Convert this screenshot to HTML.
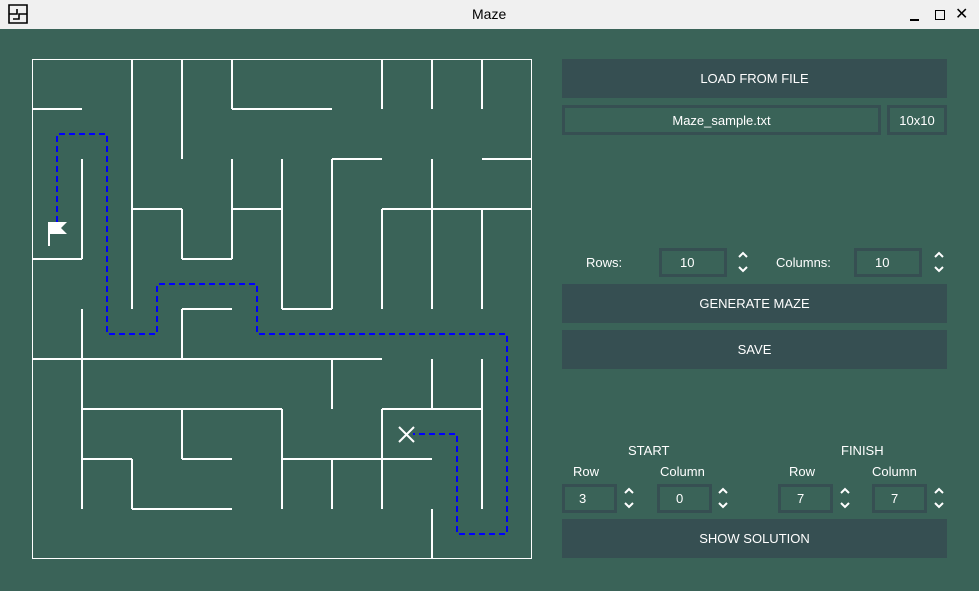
<!DOCTYPE html>
<html><head><style>
body{margin:0;width:979px;height:591px;overflow:hidden;background:#3a6358;font-family:"Liberation Sans",sans-serif;position:relative}
.tb{position:absolute;left:0;top:0;width:979px;height:29px;background:#f0f0f0;color:#000}
.a{position:absolute}
.btn{position:absolute;left:562px;width:385px;background:#364f52;color:#fff;font-size:13px;display:flex;align-items:center;justify-content:center}
.box{position:absolute;border:3px solid #364f52;box-sizing:border-box;color:#fff;font-size:13px;display:flex;align-items:center}
.t{position:absolute;color:#fff;font-size:13px}
</style></head><body>
<div class="tb">
<svg class="a" style="left:8px;top:4px" width="20" height="20"><path d="M1 1H19V19H1Z M1 10H9V5 M19 10H11V15H5" fill="none" stroke="#000" stroke-width="1.6"/></svg>
<div class="a" style="left:472px;top:6px;font-size:14px">Maze</div>
<div class="a" style="left:910px;top:19px;width:9px;height:2px;background:#000"></div>
<div class="a" style="left:935px;top:10px;width:8px;height:8px;border:1.5px solid #000"></div>
<div class="a" style="left:955px;top:4px;font-size:16px">✕</div>
</div>
<svg class="a" style="left:0;top:0" width="979" height="591">
<rect x="32.5" y="59.5" width="499" height="499" fill="none" stroke="#fff" stroke-width="1"/>
<g stroke="#fff" stroke-width="2" fill="none">
<path d="M32 109H82 M232 109H332 M332 159H382 M482 159H532 M132 209H182 M232 209H282 M382 209H532 M32 259H82 M182 259H232 M182 309H232 M282 309H332 M32 359H382 M82 409H282 M382 409H482 M82 459H132 M182 459H232 M282 459H432 M132 509H232"/>
<path d="M132 59V309 M182 59V159 M182 209V259 M232 59V109 M232 159V259 M282 159V309 M332 159V309 M382 59V109 M382 209V309 M432 59V109 M432 159V309 M482 59V109 M482 209V309 M82 159V259 M82 309V509 M182 309V359 M182 409V459 M132 459V509 M282 409V509 M332 359V409 M332 459V509 M382 409V509 M432 359V409 M432 509V559 M482 359V509"/>
</g>
<path d="M57 222V134H107V334H157V284H257V334H507V534H457V434H413" fill="none" stroke="#0000ff" stroke-width="2" stroke-dasharray="6,4"/>
<path d="M49 246V222" stroke="#fff" stroke-width="2"/>
<path d="M49 222H67L61 228L67 234H49Z" fill="#fff"/>
<path d="M399 427L414 442M414 427L399 442" stroke="#fff" stroke-width="2"/>
</svg>
<div class="btn" style="top:59px;height:39px">LOAD FROM FILE</div>
<div class="box" style="left:562px;top:105px;width:319px;height:30px;justify-content:center">Maze_sample.txt</div>
<div class="box" style="left:887px;top:105px;width:60px;height:30px;justify-content:center">10x10</div>
<div class="t" style="left:586px;top:255px">Rows:</div>
<div class="box" style="left:659px;top:248px;width:68px;height:29px;padding-left:18px">10</div>
<div class="t" style="left:776px;top:255px">Columns:</div>
<div class="box" style="left:854px;top:248px;width:68px;height:29px;padding-left:18px">10</div>
<div class="btn" style="top:284px;height:39px">GENERATE MAZE</div>
<div class="btn" style="top:330px;height:39px">SAVE</div>
<div class="t" style="left:628px;top:443px">START</div>
<div class="t" style="left:841px;top:443px">FINISH</div>
<div class="t" style="left:573px;top:464px">Row</div>
<div class="t" style="left:660px;top:464px">Column</div>
<div class="t" style="left:789px;top:464px">Row</div>
<div class="t" style="left:872px;top:464px">Column</div>
<div class="box" style="left:562px;top:484px;width:55px;height:29px;padding-left:14px">3</div>
<div class="box" style="left:657px;top:484px;width:55px;height:29px;padding-left:16px">0</div>
<div class="box" style="left:778px;top:484px;width:55px;height:29px;padding-left:16px">7</div>
<div class="box" style="left:872px;top:484px;width:55px;height:29px;padding-left:16px">7</div>
<div class="btn" style="top:519px;height:39px">SHOW SOLUTION</div>
<svg class="a" style="left:0;top:0" width="979" height="591" fill="none" stroke="#fff" stroke-width="2">
<path d="M739 257L743 253L747 257M739 267L743 271L747 267"/>
<path d="M935 257L939 253L943 257M935 267L939 271L943 267"/>
<path d="M625 493L629 489L633 493M625 503L629 507L633 503"/>
<path d="M719 493L723 489L727 493M719 503L723 507L727 503"/>
<path d="M841 493L845 489L849 493M841 503L845 507L849 503"/>
<path d="M935 493L939 489L943 493M935 503L939 507L943 503"/>
</svg>
</body></html>
